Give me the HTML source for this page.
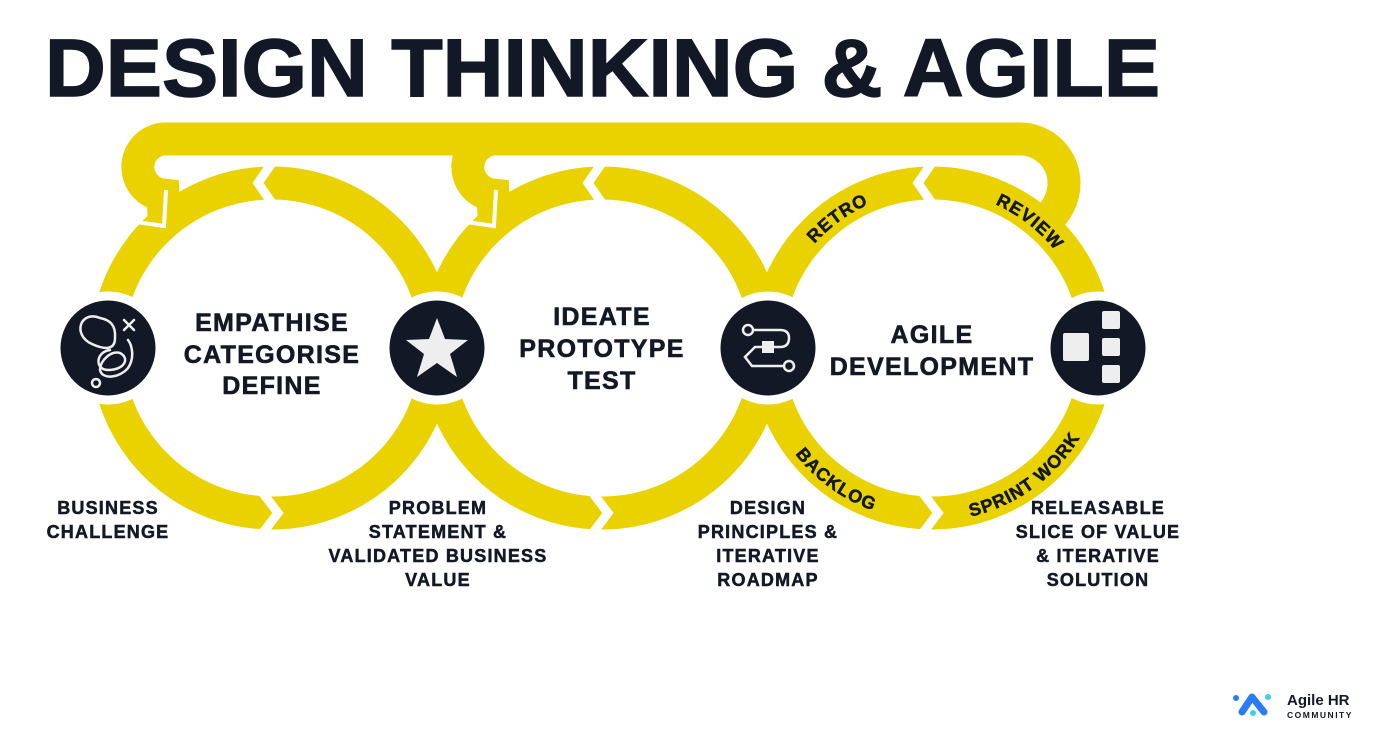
<!DOCTYPE html>
<html><head><meta charset="utf-8"><style>
html,body{margin:0;padding:0;background:#fff;}
svg{display:block;}
text{font-family:"Liberation Sans",sans-serif;font-weight:bold;fill:#121826;}
</style></head><body>
<svg width="1376" height="734" viewBox="0 0 1376 734" xmlns="http://www.w3.org/2000/svg">
<defs>
<path id="top3" d="M 775 348 A 157 157 0 0 1 1089 348"/>
<path id="bot3" d="M 759 348 A 173 173 0 0 0 1105 348"/>
</defs>
<text x="45" y="96" font-size="82" textLength="1115" lengthAdjust="spacingAndGlyphs" stroke="#121826" stroke-width="1.5">DESIGN THINKING &amp; AGILE</text>

<g fill="none" stroke="#EAD200" stroke-width="33">
<circle cx="272" cy="348" r="165"/>
<circle cx="602" cy="348" r="165"/>
<circle cx="932" cy="348" r="165"/>
<path d="M 167 139 L 1020 139 A 44 44 0 0 1 1064 183 Q 1064 205 1045 222"/>
<path d="M 200 139 L 169 139 A 28 28 0 0 0 163 195 L 164 215"/>
<path d="M 530 139 L 499 139 A 28 28 0 0 0 493 195 L 494 215"/>
</g>
<g fill="none" stroke="#fff" stroke-width="9">
<polyline points="274,160 258,183 274,206"/>
<polyline points="604,160 588,183 604,206"/>
<polyline points="934,160 918,183 934,206"/>
<polyline points="262,492 278,513 262,534"/>
<polyline points="592,492 608,513 592,534"/>
<polyline points="922,492 938,513 922,534"/>
</g>
<g fill="none" stroke="#fff" stroke-width="4">
<polyline points="166,190 164,226 136,222"/>
<polyline points="496,190 494,226 466,222"/>
</g>

<g fill="#121826" stroke="#fff" stroke-width="9">
<circle cx="108" cy="348" r="52"/>
<circle cx="437" cy="348" r="52"/>
<circle cx="768" cy="348" r="52"/>
<circle cx="1098" cy="348" r="52"/>
</g>
<g fill="none" stroke="#eee" stroke-width="2.5" stroke-linecap="round">
<path d="M 100 318 C 80 310 72 335 92 344 C 105 350 115 350 115 338 C 116 325 110 320 100 318 Z"/>
<path d="M 110 350 C 95 352 95 370 108 370 C 125 370 130 358 120 353 C 112 350 100 360 100 370 C 102 380 120 378 128 368 C 135 358 132 345 128 340"/>
<circle cx="96" cy="383" r="4"/>
<path d="M 124 320 L 134 330 M 134 320 L 124 330"/>
</g>
<polygon fill="#eee" points="437,318 445,339 468,340 450,354 457,377 437,363 417,377 424,354 406,340 429,339"/>
<g fill="none" stroke="#eee" stroke-width="2.5">
<circle cx="748" cy="330" r="5"/>
<path d="M 753 330 L 780 330 Q 789 330 789 338 Q 789 347 780 347 L 755 347 L 745 357 L 752 366 L 784 366"/>
<circle cx="789" cy="366" r="5"/>
</g>
<rect x="762" y="341" width="12" height="12" fill="#eee"/>
<g fill="#eee">
<rect x="1063" y="333" width="26" height="28" rx="2"/>
<rect x="1102" y="311" width="18" height="18" rx="2"/>
<rect x="1102" y="338" width="18" height="18" rx="2"/>
<rect x="1102" y="365" width="18" height="18" rx="2"/>
</g>

<g text-anchor="middle" font-size="25" letter-spacing="1.3" stroke="#121826" stroke-width="0.6">
<text x="272" y="331">EMPATHISE</text>
<text x="272" y="363">CATEGORISE</text>
<text x="272" y="394">DEFINE</text>
<text x="602" y="325">IDEATE</text>
<text x="602" y="357">PROTOTYPE</text>
<text x="602" y="389">TEST</text>
<text x="932" y="343">AGILE</text>
<text x="932" y="375">DEVELOPMENT</text>
</g>

<g font-size="18" letter-spacing="1" stroke="#121826" stroke-width="0.5">
<text><textPath href="#top3" startOffset="30%" text-anchor="middle">RETRO</textPath></text>
<text><textPath href="#top3" startOffset="71%" text-anchor="middle">REVIEW</textPath></text>
<text><textPath href="#bot3" startOffset="30%" text-anchor="middle">BACKLOG</textPath></text>
<text><textPath href="#bot3" startOffset="70%" text-anchor="middle">SPRINT WORK</textPath></text>
</g>

<g text-anchor="middle" font-size="18" letter-spacing="1.2" stroke="#121826" stroke-width="0.5">
<text x="108" y="514">BUSINESS</text>
<text x="108" y="538">CHALLENGE</text>
<text x="438" y="514">PROBLEM</text>
<text x="438" y="538">STATEMENT &amp;</text>
<text x="438" y="562">VALIDATED BUSINESS</text>
<text x="438" y="586">VALUE</text>
<text x="768" y="514">DESIGN</text>
<text x="768" y="538">PRINCIPLES &amp;</text>
<text x="768" y="562">ITERATIVE</text>
<text x="768" y="586">ROADMAP</text>
<text x="1098" y="514">RELEASABLE</text>
<text x="1098" y="538">SLICE OF VALUE</text>
<text x="1098" y="562">&amp; ITERATIVE</text>
<text x="1098" y="586">SOLUTION</text>
</g>

<g>
<path d="M 1242 712 L 1252 697 L 1264 712" fill="none" stroke="#2a7df0" stroke-width="7" stroke-linecap="round" stroke-linejoin="round"/>
<circle cx="1236" cy="698" r="3" fill="#2a7df0"/>
<circle cx="1268" cy="697" r="3" fill="#3ccfe8"/>
<circle cx="1253" cy="713" r="3" fill="#3ccfe8"/>
<text x="1287" y="705" font-size="15" fill="#222">Agile HR</text>
<text x="1287" y="718" font-size="8.5" font-weight="normal" letter-spacing="1.5" fill="#333">COMMUNITY</text>
</g>
</svg>
</body></html>
